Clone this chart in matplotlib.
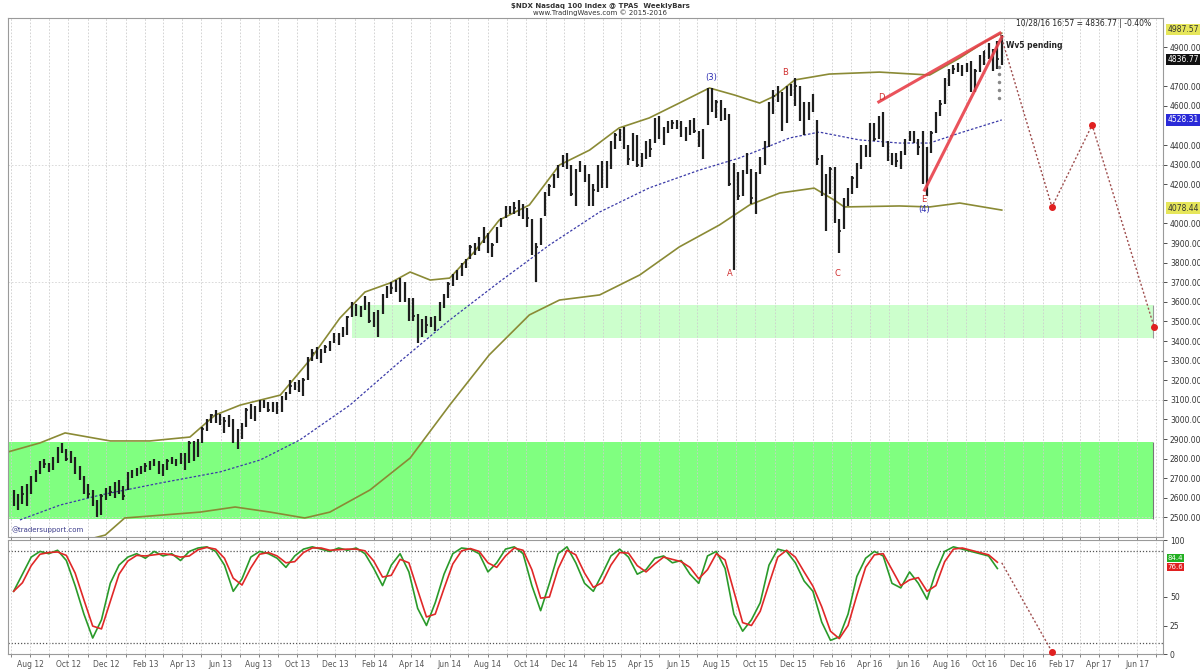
import pandas as pd
import matplotlib
matplotlib.use("Agg")
import matplotlib.pyplot as plt
import matplotlib.dates as mdates
from matplotlib.ticker import FormatStrFormatter

# weekly bars, one per Friday, 2012-07-06 .. 2016-10-28
week_end = pd.date_range("2012-07-06", "2016-10-28", freq="W-FRI")

closes = [
    2600, 2590, 2620, 2650,  2690, 2730, 2780, 2770, 2760,  2800, 2840, 2850, 2800,
    2810, 2730, 2700, 2640,  2620, 2580, 2520, 2610, 2640,  2630, 2640, 2660, 2610,
    2720, 2730, 2740, 2750,  2760, 2780, 2780, 2750,  2760, 2790, 2790, 2780, 2820,
    2780, 2880, 2820, 2890,  2950, 2990, 3020, 3000, 2990,  2990, 2990, 2900, 2930,
    2970, 3050, 3010, 3050,  3090, 3080, 3050, 3080, 3040,  3110, 3130, 3170, 3180,
    3190, 3200, 3310, 3340,  3350, 3350, 3370, 3390, 3430,  3430, 3440, 3520, 3590,
    3540, 3560, 3590, 3500, 3510,  3550, 3630, 3660, 3670,  3700, 3620, 3610, 3520,
    3530, 3400, 3500, 3480,  3500, 3510, 3580, 3630, 3690,  3730, 3740, 3790, 3810,
    3880, 3880, 3910, 3950,  3860, 3890, 3970, 4020, 4080,  4080, 4080, 4110, 4060,
    4030, 3850, 3880, 4020, 4150,  4190, 4240, 4290, 4340,  4320, 4150, 4270, 4310,
    4230, 4170, 4170, 4280, 4190,  4290, 4410, 4450, 4460,  4390, 4330, 4450, 4300,
    4330, 4400, 4380, 4530,  4470, 4480, 4500, 4510, 4510,  4470, 4460, 4510, 4470,
    4420, 4470, 4680, 4580, 4620,  4560, 4570, 4200, 4300,  4140, 4260, 4270, 4130,
    4250, 4320, 4400, 4600, 4650,  4670, 4480, 4690, 4670,  4700, 4530, 4460, 4600,
    4590, 4330, 4200, 4210, 4280,  4010, 3960, 4110, 4160,  4230, 4300, 4390, 4370,
    4500, 4430, 4530, 4400, 4340,  4320, 4320, 4360, 4420,  4450, 4420, 4390, 4210,
    4380, 4460, 4560, 4610, 4730,  4780, 4790, 4800, 4780,  4810, 4680, 4780, 4850, 4880,
    4860, 4820, 4840, 4837,
]
highs = [
    2640, 2620, 2660, 2670,  2710, 2740, 2790, 2800, 2780,  2810, 2860, 2880, 2850,
    2840, 2810, 2760, 2710,  2670, 2640, 2590, 2620, 2650,  2660, 2680, 2690, 2660,
    2730, 2740, 2750, 2760,  2780, 2790, 2800, 2790,  2770, 2800, 2810, 2800, 2830,
    2830, 2890, 2890, 2900,  2960, 3000, 3030, 3050, 3030,  3010, 3020, 3000, 2950,
    2980, 3060, 3080, 3070,  3100, 3100, 3090, 3090, 3090,  3120, 3140, 3200, 3190,
    3200, 3210, 3320, 3360,  3370, 3360, 3380, 3400, 3440,  3440, 3470, 3530, 3600,
    3590, 3580, 3630, 3600, 3550,  3560, 3640, 3680, 3700,  3710, 3720, 3700, 3620,
    3620, 3540, 3510, 3530,  3520, 3530, 3600, 3640, 3700,  3740, 3760, 3800, 3820,
    3890, 3900, 3930, 3980,  3950, 3900, 3980, 4030, 4090,  4090, 4110, 4120, 4100,
    4080, 4020, 3900, 4030, 4160,  4200, 4250, 4300, 4350,  4360, 4300, 4280, 4320,
    4300, 4250, 4200, 4300, 4320,  4320, 4420, 4460, 4480,  4490, 4400, 4460, 4450,
    4360, 4420, 4430, 4540,  4550, 4490, 4520, 4530, 4530,  4520, 4490, 4530, 4540,
    4470, 4480, 4690, 4690, 4630,  4630, 4590, 4560, 4310,  4260, 4270, 4360, 4280,
    4260, 4340, 4420, 4620, 4680,  4700, 4670, 4700, 4710,  4740, 4700, 4620, 4620,
    4660, 4530, 4350, 4250, 4290,  4290, 4020, 4130, 4180,  4240, 4310, 4400, 4400,
    4510, 4510, 4550, 4570, 4420,  4360, 4360, 4370, 4430,  4470, 4470, 4430, 4470,
    4390, 4470, 4570, 4630, 4740,  4790, 4810, 4820, 4810,  4820, 4830, 4790, 4860, 4880,
    4920, 4890, 4930, 4960,
]
lows = [
    2560, 2540, 2570, 2560,  2620, 2680, 2720, 2750, 2730,  2740, 2780, 2830, 2790,
    2780, 2720, 2690, 2620,  2600, 2560, 2500, 2510, 2590,  2610, 2600, 2620, 2590,
    2640, 2700, 2710, 2720,  2730, 2740, 2760, 2720,  2710, 2740, 2770, 2760, 2770,
    2740, 2780, 2790, 2810,  2880, 2940, 2980, 2980, 2970,  2930, 2960, 2880, 2850,
    2900, 2960, 3000, 2990,  3040, 3060, 3040, 3040, 3030,  3040, 3100, 3130, 3150,
    3140, 3120, 3200, 3300,  3310, 3290, 3340, 3350, 3390,  3380, 3420, 3430, 3520,
    3530, 3520, 3560, 3490, 3470,  3420, 3540, 3620, 3640,  3650, 3600, 3600, 3500,
    3500, 3390, 3420, 3440,  3470, 3450, 3500, 3570, 3620,  3680, 3710, 3730, 3770,
    3820, 3840, 3860, 3900,  3850, 3830, 3900, 3980, 4030,  4050, 4050, 4040, 4020,
    3980, 3840, 3700, 3890, 4040,  4140, 4180, 4230, 4290,  4280, 4140, 4090, 4260,
    4210, 4090, 4090, 4160, 4180,  4180, 4280, 4380, 4420,  4380, 4300, 4320, 4290,
    4290, 4330, 4340, 4410,  4430, 4400, 4460, 4480, 4480,  4440, 4420, 4450, 4460,
    4390, 4330, 4500, 4570, 4540,  4520, 4530, 4190, 3760,  4120, 4140, 4250, 4100,
    4050, 4250, 4300, 4390, 4560,  4620, 4470, 4510, 4650,  4600, 4520, 4450, 4530,
    4570, 4300, 4140, 3960, 4150,  4000, 3850, 3970, 4090,  4150, 4180, 4280, 4340,
    4340, 4420, 4430, 4390, 4320,  4300, 4290, 4280, 4350,  4420, 4410, 4350, 4200,
    4140, 4360, 4460, 4550, 4610,  4700, 4760, 4770, 4750,  4770, 4670, 4670, 4770, 4810,
    4840, 4780, 4790, 4810,
]

# bollinger bands
upper_dates = ["2012-06-27", "2012-08-17", "2012-09-26", "2012-12-07", "2013-02-08",
               "2013-04-13", "2013-05-23", "2013-07-02", "2013-09-04", "2013-10-21",
               "2013-12-08", "2014-01-17", "2014-02-26", "2014-03-30", "2014-05-01",
               "2014-06-01", "2014-07-10", "2014-08-19", "2014-10-06", "2014-11-23",
               "2015-01-10", "2015-02-26", "2015-04-15", "2015-06-02", "2015-07-20",
               "2015-08-29", "2015-10-08", "2015-11-01", "2015-12-03", "2016-01-27",
               "2016-04-16", "2016-07-05", "2016-08-22", "2016-09-30", "2016-10-28"]
upper_vals = [2834, 2880, 2931, 2890, 2890, 2910, 3022, 3073, 3124, 3303,
              3517, 3650, 3696, 3752, 3711, 3721, 3854, 4017, 4094, 4298,
              4374, 4487, 4538, 4614, 4691, 4655, 4614, 4650, 4732, 4762,
              4772, 4757, 4844, 4925, 4971]

mid_dates = ["2012-07-16", "2012-09-18", "2012-11-21", "2013-02-24", "2013-05-31",
             "2013-08-03", "2013-10-05", "2013-12-24", "2014-03-13", "2014-06-01",
             "2014-08-19", "2014-11-07", "2015-01-26", "2015-04-15", "2015-07-04",
             "2015-09-06", "2015-11-25", "2016-01-11", "2016-03-15", "2016-05-18",
             "2016-07-05", "2016-08-22", "2016-10-28"]
mid_vals = [2487, 2563, 2614, 2675, 2732, 2793, 2895, 3073, 3293, 3507,
            3701, 3890, 4058, 4181, 4272, 4334, 4436, 4466, 4426, 4410,
            4410, 4461, 4528]

lower_dates = ["2012-06-27", "2012-09-18", "2012-11-29", "2012-12-30", "2013-04-29",
               "2013-06-24", "2013-08-19", "2013-10-13", "2013-11-22", "2014-01-25",
               "2014-03-30", "2014-06-01", "2014-08-03", "2014-10-06", "2014-11-23",
               "2015-01-26", "2015-03-31", "2015-06-02", "2015-08-05", "2015-09-22",
               "2015-11-09", "2016-01-03", "2016-02-04", "2016-02-20", "2016-05-18",
               "2016-07-05", "2016-08-22", "2016-10-28"]
lower_vals = [2300, 2350, 2410, 2497, 2527, 2553, 2527, 2497, 2527, 2640,
              2803, 3073, 3329, 3533, 3609, 3635, 3737, 3880, 3992, 4094,
              4155, 4180, 4119, 4084, 4089, 4084, 4104, 4068]

# slow stochastic %K, every second week
stoch_k = [55, 70, 85, 90, 88, 91, 82, 60, 35, 14, 30, 62, 78, 85, 88, 84, 90, 86, 88, 82,
           90, 93, 94, 90, 78, 55, 66, 85, 90, 88, 84, 76, 86, 92, 94, 92, 90, 93, 91, 93,
           88, 75, 60, 78, 88, 72, 40, 25, 45, 70, 88, 93, 92, 88, 72, 80, 92, 94, 88, 60,
           38, 62, 88, 94, 80, 62, 55, 70, 86, 92, 85, 70, 74, 84, 86, 80, 82, 70, 62, 86,
           90, 75, 35, 20, 30, 45, 78, 92, 90, 80, 64, 55, 28, 12, 15, 35, 68, 84, 90, 86,
           62, 58, 72, 62, 48, 72, 90, 94, 92, 90, 88, 86, 75]

# projected path
fc_dates = ["2016-10-26", "2017-01-16", "2017-03-21", "2017-06-28"]
fc_vals = [4965, 4084, 4502, 3470]
stoch_fc_dates = ["2016-10-28", "2017-01-16"]
stoch_fc_vals = [80, 2]

# wedge lines
wedge_upper = (["2016-04-15", "2016-10-25"], [4620, 4971])
wedge_lower = (["2016-06-27", "2016-10-28"], [4170, 4951])

wave_labels = [("(3)", "2015-07-23", 4742, "#2a2ab0"), ("A", "2015-08-22", 3745, "#d03030"),
               ("B", "2015-11-17", 4772, "#d03030"), ("C", "2016-02-09", 3745, "#d03030"),
               ("D", "2016-04-19", 4640, "#d03030"), ("E", "2016-06-26", 4120, "#d03030"),
               ("(4)", "2016-06-27", 4070, "#2a2ab0")]
sub_wave_dates = ["2016-10-24"] * 5
sub_wave_vals = [4800, 4760, 4720, 4680, 4640]

zone_low = (2490, 2885)
zone_high = (3415, 3584)

W, H = 1200, 670
fig = plt.figure(figsize=(12, 6.7), dpi=100)
ax1 = fig.add_axes([8 / W, 1 - 537 / H, 1155 / W, 519 / H])
ax2 = fig.add_axes([8 / W, 1 - 654 / H, 1155 / W, 114 / H], sharex=ax1)

x_left, x_right = pd.Timestamp("2012-06-27"), pd.Timestamp("2017-07-12")
box_end = pd.Timestamp("2017-06-26")

for ax in (ax1, ax2):
    ax.set_facecolor("white")
    for s in ax.spines.values():
        s.set_color("#9a9a9a")
        s.set_linewidth(0.8)
    ax.xaxis.set_major_locator(mdates.MonthLocator(bymonth=[2, 4, 6, 8, 10, 12]))
    ax.xaxis.set_minor_locator(mdates.MonthLocator())
    ax.grid(True, which="both", axis="x", color="#cdcdcd", lw=0.6, ls=(0, (2, 2)))
    ax.yaxis.tick_right()
    ax.tick_params(axis="y", labelsize=5.5, colors="#333333", length=3, width=0.6, pad=2)
    ax.tick_params(axis="x", which="both", length=2, width=0.5, colors="#555555")

# zones
ax1.fill_between([x_left, box_end], zone_low[0], zone_low[1], color="#80ff80", lw=0, zorder=0)
ax1.fill_between([pd.Timestamp("2013-12-27"), box_end], zone_high[0], zone_high[1],
                 color="#ccffcc", lw=0, zorder=0)
ax1.vlines(box_end, zone_low[0], zone_low[1], color="#777777", lw=0.8, zorder=1)
ax1.vlines(box_end, zone_high[0], zone_high[1], color="#999999", lw=0.8, zorder=1)
for lvl in [2500, 3100, 3700, 4300]:
    ax1.axhline(lvl, color="#d5d5d5", lw=0.6, ls=(0, (2, 2)), zorder=0.5)

# bands
ax1.plot(pd.to_datetime(upper_dates), upper_vals, color="#8a8a35", lw=1.2, zorder=2)
ax1.plot(pd.to_datetime(lower_dates), lower_vals, color="#8a8a35", lw=1.2, zorder=2)
ax1.plot(pd.to_datetime(mid_dates), mid_vals, color="#3b3ba8", lw=0.9, ls=(0, (2, 1.5)), zorder=2)

# price bars
ax1.vlines(week_end, lows, highs, color="#1e1e1e", lw=1.6, zorder=3)
ax1.hlines(closes, week_end, week_end + pd.Timedelta(days=2), color="#1e1e1e", lw=1.2, zorder=3)

# wedge + forecast
for dts, vals in (wedge_upper, wedge_lower):
    ax1.plot(pd.to_datetime(dts), vals, color="#e8404a", lw=2.2, alpha=0.9, zorder=4)
fcd = pd.to_datetime(fc_dates)
ax1.plot(fcd, fc_vals, color="#a05050", lw=1.0, ls=(0, (1.5, 1.5)), zorder=4)
ax1.plot(fcd[1:], fc_vals[1:], "o", color="#e02020", ms=4, zorder=5)
ax1.plot(pd.to_datetime(sub_wave_dates), sub_wave_vals, ".", color="#888888", ms=3, zorder=4)

for txt, d, v, c in wave_labels:
    ax1.text(pd.Timestamp(d), v, txt, color=c, fontsize=6, ha="center", va="center", zorder=6)

ax1.text(0.864, 1 - (45 - 18) / 519, "Wv5 pending", transform=ax1.transAxes,
         fontsize=5.5, fontweight="bold", color="#222222", va="center")
ax1.text(0.99, 1 - (24 - 18) / 519, "10/28/16 16:57 = 4836.77 | -0.40%", transform=ax1.transAxes,
         fontsize=5.5, color="#222222", ha="right", va="center")
ax1.text(0.003, 1 - (530 - 18) / 519, "@tradersupport.com", transform=ax1.transAxes,
         fontsize=5, color="#3a3a8a", ha="left", va="center")

ax1.set_xlim(x_left, x_right)
ax1.set_ylim(2400, 5048)
# tick levels hidden behind the value flags are left out
ax1.set_yticks([v for v in range(2500, 5001, 100) if v not in (5000, 4800, 4500, 4100)])
ax1.yaxis.set_major_formatter(FormatStrFormatter("%.2f"))
ax1.tick_params(axis="x", labelbottom=False)

# value flags on the price axis
flags = [(4987.57, "#e6e65a", "#333333"), (4836.77, "#111111", "white"),
         (4528.31, "#2a2ad8", "white"), (4078.44, "#e6e65a", "#333333")]
for val, fc, tc in flags:
    ax1.text(1.004, val, f"{val:.2f}", transform=ax1.get_yaxis_transform(), fontsize=5.5,
             color=tc, va="center", ha="left", clip_on=False, zorder=10,
             bbox=dict(boxstyle="square,pad=0.15", fc=fc, ec="none"))

# stochastic panel
sdates = week_end[::2]
k = pd.Series(stoch_k, index=sdates)
d = k.rolling(2, min_periods=1).mean()
ax2.plot(sdates, k.values, color="#2a9a2a", lw=1.2, zorder=3)
ax2.plot(sdates, d.values, color="#e02828", lw=1.2, zorder=3)
for lvl in (90, 10):
    ax2.axhline(lvl, color="#555555", lw=0.9, ls=(0, (1, 1.5)), zorder=1)
sfd = pd.to_datetime(stoch_fc_dates)
ax2.plot(sfd, stoch_fc_vals, color="#a05050", lw=1.0, ls=(0, (1.5, 1.5)), zorder=4)
ax2.plot(sfd[-1:], stoch_fc_vals[-1:], "o", color="#e02020", ms=4, zorder=5, clip_on=False)
ax2.set_ylim(0, 100)
ax2.set_yticks([0, 25, 50, 100])
ax2.yaxis.set_major_formatter(FormatStrFormatter("%d"))
for val, fc in ((84.4, "#22b022"), (76.6, "#e02020")):
    ax2.text(1.004, val, f"{val:.1f}", transform=ax2.get_yaxis_transform(), fontsize=5,
             color="white", va="center", ha="left", clip_on=False, zorder=10,
             bbox=dict(boxstyle="square,pad=0.15", fc=fc, ec="none"))
ax2.xaxis.set_major_formatter(mdates.DateFormatter("%b %y"))
ax2.tick_params(axis="x", labelsize=5.5, pad=2)

fig.text(0.5, 1 - 6 / H, "$NDX Nasdaq 100 Index @ TPAS  WeeklyBars", ha="center", va="center",
         fontsize=5, color="#333333", fontweight="bold")
fig.text(0.5, 1 - 13 / H, "www.TradingWaves.com © 2015-2016", ha="center", va="center",
         fontsize=5, color="#333333")

fig.savefig("out.png", dpi=100, facecolor="white")
